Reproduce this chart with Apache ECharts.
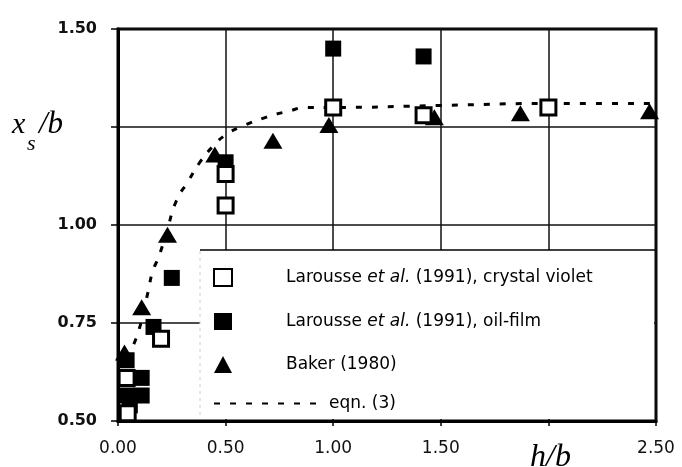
<!DOCTYPE html>
<html><head><meta charset="utf-8">
<script src="https://cdn.jsdelivr.net/npm/echarts@6/dist/echarts.min.js"></script>
<style>html,body{margin:0;padding:0;background:#fff}#c{width:682px;height:467px}</style>
</head><body><div id="c"></div>
<script>
const xTickLabels = ['0.00','0.50','1.00','1.50','','2.50'];
const yTickLabels = ['0.50','0.75','1.00','','1.50'];
const nameCrystal = 'Larousse et al. (1991), crystal violet';
const nameOil = 'Larousse et al. (1991), oil-film';
const nameBaker = 'Baker (1980)';
const nameEqn = 'eqn. (3)';
const crystalX = [0.5, 0.5, 1.0, 1.42, 2.0, 0.2, 0.04, 0.045];
const crystalY = [1.05, 1.13, 1.30, 1.28, 1.30, 0.71, 0.61, 0.52];
const oilX = [1.0, 1.42, 0.5, 0.25, 0.165, 0.11, 0.11, 0.04, 0.04, 0.055];
const oilY = [1.45, 1.43, 1.16, 0.865, 0.74, 0.61, 0.565, 0.565, 0.655, 0.54];
const bakerX = [0.23, 0.11, 0.03, 0.45, 0.72, 0.98, 1.47, 1.87, 2.47];
const bakerY = [0.975, 0.79, 0.675, 1.18, 1.215, 1.255, 1.275, 1.285, 1.29];
const eqnX = [0.04, 0.09, 0.14, 0.16, 0.19, 0.23, 0.27, 0.33, 0.38, 0.44, 0.5, 0.57, 0.69, 0.79, 0.88, 1.0, 1.5, 2.0, 2.5];
const eqnY = [0.66, 0.72, 0.83, 0.88, 0.92, 0.99, 1.06, 1.115, 1.16, 1.20, 1.23, 1.25, 1.275, 1.29, 1.30, 1.30, 1.305, 1.31, 1.31];

const zip = (xs, ys) => xs.map((x, i) => [x, ys[i]]);
const FONT = 'DejaVu Sans';
const legendFmt = n => '{n|' + n.replace('et al.', '}{i|et al.}{n|') + '}';
const rich = {
  n: {fontFamily: FONT, fontSize: 17, color: '#000', lineHeight: 17},
  i: {fontFamily: FONT, fontSize: 17, color: '#000', fontStyle: 'italic', lineHeight: 17}
};

const chart = echarts.init(document.getElementById('c'), null, {renderer: 'canvas'});
chart.setOption({
  animation: false,
  backgroundColor: '#fff',
  grid: {left: 118, right: 26, top: 29, bottom: 46, containLabel: false, outerBoundsMode: 'none',
    show: true, borderColor: '#000', borderWidth: 3, backgroundColor: 'transparent'},
  xAxis: {
    type: 'value', min: 0, max: 2.5, interval: 0.5,
    axisLine: {show: true, onZero: false, lineStyle: {color: '#000', width: 3}},
    axisTick: {show: true, length: 5, lineStyle: {color: '#000', width: 1.5}},
    splitLine: {show: true, lineStyle: {color: '#111', width: 1.5}},
    axisLabel: {margin: 19, fontFamily: FONT, fontSize: 17, color: '#111',
      formatter: (v, i) => xTickLabels[i]}
  },
  yAxis: {
    type: 'value', min: 0.5, max: 1.5, interval: 0.25,
    axisLine: {show: true, onZero: false, lineStyle: {color: '#000', width: 3}},
    axisTick: {show: true, length: 7, lineStyle: {color: '#000', width: 1.5}},
    splitLine: {show: true, lineStyle: {color: '#111', width: 1.5}},
    axisLabel: {margin: 21, fontFamily: FONT, fontSize: 16, fontWeight: 'bold', color: '#111',
      formatter: (v, i) => yTickLabels[i]}
  },
  legend: [
    {data: [nameCrystal, nameOil, nameBaker], orient: 'vertical', left: 213, top: 268,
      itemWidth: 18, itemHeight: 17, itemGap: 26, padding: 0, selectedMode: false, z: 6,
      formatter: legendFmt, textStyle: {padding: [0, 0, 0, 49], rich: rich}},
    {data: [nameEqn], orient: 'vertical', left: 213, top: 395,
      itemWidth: 110, itemHeight: 14, padding: 0, selectedMode: false, z: 6,
      itemStyle: {color: 'rgba(0,0,0,0)', borderWidth: 0, opacity: 0},
      formatter: legendFmt, textStyle: {rich: rich}}
  ],
  graphic: [
    {type: 'rect', z: 3, shape: {x: 200, y: 250, width: 454, height: 169}, style: {fill: '#fff'}},
    {type: 'line', z: 3, shape: {x1: 200, y1: 250, x2: 655, y2: 250}, style: {stroke: '#000', lineWidth: 1.5}},
    {type: 'line', z: 3, shape: {x1: 200, y1: 251, x2: 200, y2: 419}, style: {stroke: '#ccc', lineWidth: 1, lineDash: [3, 4]}},
    {type: 'text', z: 5, x: 12, y: 125, style: {text: 'x', font: 'italic 30px "Liberation Serif"', fill: '#000', verticalAlign: 'middle'}},
    {type: 'text', z: 5, x: 27, y: 144, style: {text: 's', font: 'italic 22px "Liberation Serif"', fill: '#000', verticalAlign: 'middle'}},
    {type: 'text', z: 5, x: 39, y: 125, style: {text: '/b', font: 'italic 31px "Liberation Serif"', fill: '#000', verticalAlign: 'middle'}},
    {type: 'text', z: 5, x: 530, y: 458, style: {text: 'h/b', font: 'italic 32px "Liberation Serif"', fill: '#000', verticalAlign: 'middle'}}
  ],
  series: [
    {name: nameEqn, type: 'line', data: zip(eqnX, eqnY), smooth: true, symbol: 'none', z: 2,
      lineStyle: {color: '#000', width: 3, type: [6, 10]}, itemStyle: {color: '#000'}},
    {name: nameBaker, type: 'scatter', data: zip(bakerX, bakerY), symbol: 'triangle', symbolSize: [19, 16], z: 3,
      itemStyle: {color: '#000', opacity: 1}},
    {name: nameOil, type: 'scatter', data: zip(oilX, oilY), symbol: 'rect', symbolSize: 16, z: 3,
      itemStyle: {color: '#000', opacity: 1}},
    {name: nameCrystal, type: 'scatter', data: zip(crystalX, crystalY), symbol: 'rect', symbolSize: 15, z: 4,
      itemStyle: {color: '#fff', borderColor: '#000', borderWidth: 3, opacity: 1}}
  ]
});
</script></body></html>
